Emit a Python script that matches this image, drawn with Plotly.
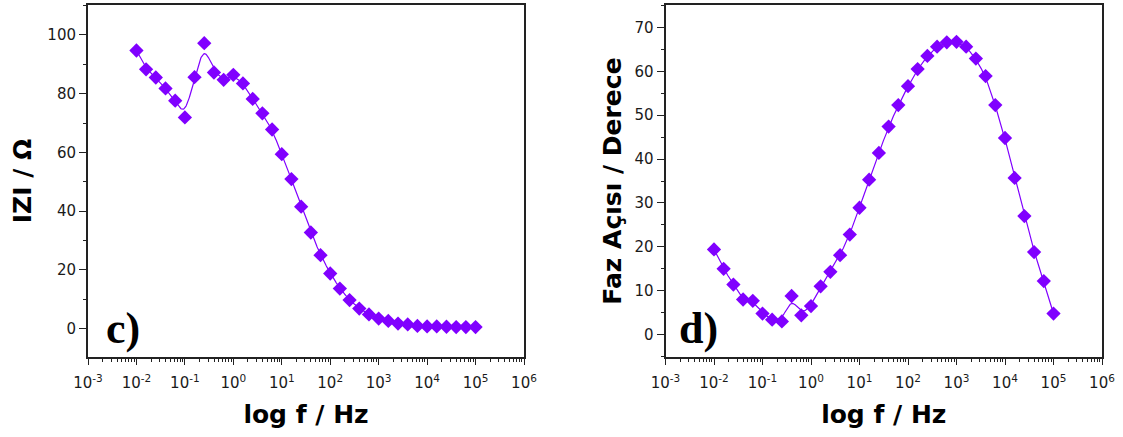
import numpy as np
import plotly.graph_objects as go

# ---- data ----
freq_hz = [0.01, 0.0158, 0.0251, 0.0398, 0.0631, 0.1, 0.158, 0.251, 0.398, 0.631,
           1, 1.58, 2.51, 3.98, 6.31, 10, 15.8, 25.1, 39.8, 63.1,
           100, 158, 251, 398, 631, 1000, 1580, 2510, 3980, 6310,
           10000, 15800, 25100, 39800, 63100, 100000]

z_mod = [94.7, 88.3, 85.5, 81.8, 77.6, 71.9, 85.6, 97.2, 87.2, 84.7,
         86.4, 83.5, 78.2, 73.3, 67.8, 59.4, 50.9, 41.5, 32.7, 25.0,
         18.75, 13.6, 9.7, 6.8, 4.8, 3.4, 2.6, 1.7, 1.4, 0.9,
         0.7, 0.7, 0.6, 0.5, 0.5, 0.5]

phase = [19.4, 15.0, 11.4, 8.0, 7.7, 4.8, 3.4, 3.0, 8.8, 4.4,
         6.5, 11.0, 14.3, 18.1, 22.8, 28.9, 35.3, 41.4, 47.4, 52.3,
         56.6, 60.5, 63.5, 65.6, 66.6, 66.7, 65.6, 62.9, 58.9, 52.3,
         44.8, 35.7, 27.0, 18.8, 12.2, 4.8]

x_tick_vals = [1e-3, 1e-2, 1e-1, 1e0, 1e1, 1e2, 1e3, 1e4, 1e5, 1e6]
x_tick_text = ["10<sup>-3</sup>", "10<sup>-2</sup>", "10<sup>-1</sup>", "10<sup>0</sup>",
               "10<sup>1</sup>", "10<sup>2</sup>", "10<sup>3</sup>", "10<sup>4</sup>",
               "10<sup>5</sup>", "10<sup>6</sup>"]

COLOR = "#8000FF"


def bspline(xs, ys, n=20):
    """Uniform cubic B-spline (in log-x) using the data points as control points."""
    px = np.log10(np.asarray(xs, float))
    py = np.asarray(ys, float)
    px = np.concatenate([[2 * px[0] - px[1]], px, [2 * px[-1] - px[-2]]])
    py = np.concatenate([[2 * py[0] - py[1]], py, [2 * py[-1] - py[-2]]])
    outx, outy = [], []
    t = np.linspace(0, 1, n, endpoint=False)
    b0 = (1 - t) ** 3 / 6
    b1 = (3 * t ** 3 - 6 * t ** 2 + 4) / 6
    b2 = (-3 * t ** 3 + 3 * t ** 2 + 3 * t + 1) / 6
    b3 = t ** 3 / 6
    for i in range(1, len(px) - 2):
        outx.append(b0 * px[i - 1] + b1 * px[i] + b2 * px[i + 1] + b3 * px[i + 2])
        outy.append(b0 * py[i - 1] + b1 * py[i] + b2 * py[i + 1] + b3 * py[i + 2])
    outx = np.concatenate(outx + [[px[-2]]])
    outy = np.concatenate(outy + [[py[-2]]])
    return 10 ** outx, outy


fig = go.Figure()

for xs, ys, xa, ya in [(freq_hz, z_mod, "x", "y"), (freq_hz, phase, "x2", "y2")]:
    lx, ly = bspline(xs, ys)
    fig.add_trace(go.Scatter(x=lx, y=ly, mode="lines", line=dict(color=COLOR, width=1.2),
                             xaxis=xa, yaxis=ya, showlegend=False, hoverinfo="skip"))
    fig.add_trace(go.Scatter(x=xs, y=ys, mode="markers",
                             marker=dict(symbol="diamond", size=11, color=COLOR),
                             xaxis=xa, yaxis=ya, showlegend=False))

W, H = 1123, 437
ML, MR, MT, MB = 88, 21, 5, 80
PW = W - ML - MR
PH = H - MT - MB

tickfont = dict(family="DejaVu Sans", size=15, color="#1a1a1a")
titlefont = dict(family="DejaVu Sans", size=25, color="#000000")

common_x = dict(type="log", range=[-3, 6], tickvals=x_tick_vals, ticktext=x_tick_text,
                ticks="outside", ticklen=6, tickwidth=1.2, tickcolor="#222",
                showline=True, linecolor="#222", linewidth=2, mirror=True,
                showgrid=False, zeroline=False, tickfont=tickfont, automargin=False,
                ticklabelstandoff=5,
                minor=dict(ticks="outside", ticklen=3, tickcolor="#222", dtick="D1", showgrid=False),
                title=dict(text="<b>log f / Hz</b>", font=titlefont, standoff=14))

common_y = dict(ticks="outside", ticklen=7, tickwidth=1.2, tickcolor="#222",
                showline=True, linecolor="#222", linewidth=2, mirror=True,
                showgrid=False, zeroline=False, tickfont=tickfont, automargin=False)

fig.update_layout(
    width=W, height=H,
    margin=dict(l=ML, r=MR, t=MT, b=MB),
    paper_bgcolor="white", plot_bgcolor="white",
    xaxis=dict(common_x, domain=[0, (524 - ML) / PW], anchor="y"),
    yaxis=dict(common_y, domain=[0, 1], anchor="x", range=[-9.7, 110.2], dtick=20,
               minor=dict(ticks="outside", ticklen=3, tickcolor="#222", dtick=10),
               title=dict(text="<b>IZI / Ω</b>", font=titlefont, standoff=9)),
    xaxis2=dict(common_x, domain=[(665.5 - ML) / PW, 1], anchor="y2"),
    yaxis2=dict(common_y, domain=[0, 1], anchor="x2", range=[-5.1, 75.1], dtick=10,
                minor=dict(ticks="outside", ticklen=3, tickcolor="#222", dtick=5),
                title=dict(text="<b>Faz Açısı / Derece</b>", font=titlefont, standoff=6)),
)

# panel labels, positioned by page pixels then converted to plot-area fractions
panel_labels = [("<b>c)</b>", 122.5, 328), ("<b>d)</b>", 698.5, 328)]
for txt, px_x, px_y in panel_labels:
    fig.add_annotation(text=txt, x=(px_x - ML) / PW, y=1 - (px_y - MT) / PH,
                       xref="paper", yref="paper", xanchor="center", yanchor="middle",
                       showarrow=False,
                       font=dict(family="Liberation Serif", size=44, color="#000"))

fig.write_html("out.html", config={"displayModeBar": False},
               post_script="document.body.style.margin='0';")
